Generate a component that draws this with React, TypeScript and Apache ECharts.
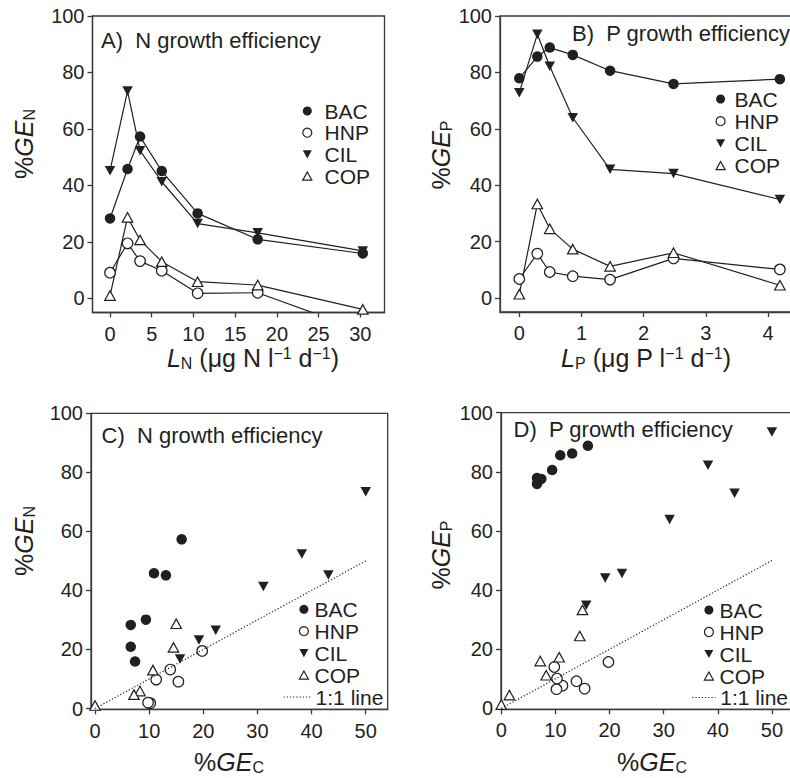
import React, { useEffect, useRef } from 'react';
import * as echarts from 'echarts';

const INK = '#231f20';
const AXIS_INK = '#3a3a3a';
const FONT = '"Liberation Sans", Arial, Helvetica, sans-serif';

// Nutrient loading (x of panels A and B)
const LN = [0, 2.1, 3.6, 6.2, 10.5, 17.7, 30.3];
const LP = [0, 0.29, 0.49, 0.86, 1.46, 2.48, 4.19];

// %GE_N
const GEN_BAC = [28.3, 45.8, 57.3, 45.1, 30.1, 20.9, 15.9];
const GEN_HNP = [9.1, 19.5, 13.2, 9.8, 1.8, 2.0, -11.5];
const GEN_CIL = [45.2, 73.4, 52.3, 41.3, 26.5, 23.2, 16.8];
const GEN_COP = [1.0, 28.7, 20.7, 13.0, 5.9, 4.7, -3.9];

// %GE_P
const GEP_BAC = [77.9, 85.6, 88.8, 86.2, 80.6, 75.9, 77.6];
const GEP_HNP = [6.7, 15.7, 9.2, 7.7, 6.5, 14.0, 10.1];
const GEP_CIL = [72.8, 93.5, 82.2, 63.9, 45.6, 44.1, 34.9];
const GEP_COP = [1.3, 33.3, 24.5, 17.3, 11.2, 16.0, 4.5];

// %GE_C
const GEC_BAC = [6.6, 10.9, 16.0, 13.1, 9.4, 6.6, 7.4];
const GEC_HNP = [15.4, 19.8, 13.9, 11.3, 10.2, 9.8, 10.3];
const GEC_CIL = [43.1, 50.0, 38.2, 31.1, 22.3, 19.2, 15.7];
const GEC_COP = [0.0, 15.0, 14.5, 10.7, 8.3, 7.2, 1.5];

const ONE_TO_ONE = [0, 50];

const GE_TICKS = [0, 20, 40, 60, 80, 100];
const LN_TICKS = [0, 5, 10, 15, 20, 25, 30];
const LP_TICKS = [0, 1, 2, 3, 4];
const GEC_TICKS = [0, 10, 20, 30, 40, 50];

const GROUPS = ['BAC', 'HNP', 'CIL', 'COP'];
const LINE_NAME = '1:1 line';

const DOWN_TRI = 'path://M0,0L10,0L5,9Z';
const UP_TRI = 'path://M5,0L10,9L0,9Z';

const MARK: Record<string, any> = {
  BAC: { symbol: 'circle', symbolSize: 10.5, itemStyle: { color: INK, borderWidth: 0, opacity: 1 } },
  HNP: { symbol: 'circle', symbolSize: 10.5, itemStyle: { color: '#fff', borderColor: INK, borderWidth: 1.2, opacity: 1 } },
  CIL: { symbol: DOWN_TRI, symbolSize: [10.5, 9.5], itemStyle: { color: INK, borderWidth: 0, opacity: 1 } },
  COP: { symbol: UP_TRI, symbolSize: [10.5, 9.5], itemStyle: { color: '#fff', borderColor: INK, borderWidth: 1.2, opacity: 1 } },
};

const zip = (xs: number[], ys: number[]) => xs.map((x, i) => [x, ys[i]]);

function axis(gridIndex: number, min: number, max: number, ticks: number[], margin: number) {
  return {
    type: 'value',
    gridIndex,
    min,
    max,
    axisLine: { show: true, onZero: false, lineStyle: { color: AXIS_INK, width: 1.3 } },
    axisTick: { show: true, inside: false, length: 5, customValues: ticks, lineStyle: { color: AXIS_INK, width: 1.3 } },
    axisLabel: { show: true, customValues: ticks, margin, fontSize: 20, color: INK, fontFamily: FONT },
    splitLine: { show: false },
  };
}

function gridBox(left: number, top: number, width: number, height: number) {
  return {
    left, top, width, height,
    show: true,
    borderColor: AXIS_INK,
    borderWidth: 1.3,
    backgroundColor: 'transparent',
    containLabel: false,
    outerBoundsMode: 'none',
  };
}

const ICON = 9;

// square icon box centred on the marker; a rich spacer pushes the name to its start
function groupLegend(markerCx: number, firstRowCy: number, gap: number, textStart: number) {
  const left = markerCx - ICON / 2;
  const spacer = Math.max(0, textStart - (left + ICON + 5));
  return {
    orient: 'vertical',
    left,
    top: firstRowCy - 10.5,
    padding: 0,
    itemWidth: ICON,
    itemHeight: ICON,
    itemGap: gap,
    selectedMode: false,
    formatter: (name: string) => `{g|\u00a0}{t|${name}}`,
    textStyle: {
      fontSize: 21, color: INK, fontFamily: FONT,
      rich: {
        g: { width: spacer, fontSize: 21, fontFamily: FONT },
        t: { fontSize: 21, color: INK, fontFamily: FONT },
      },
    },
    data: GROUPS.map((g) => ({
      name: g,
      icon: MARK[g].symbol,
      itemStyle: MARK[g].itemStyle,
    })),
  };
}

function lineLegend(left: number, rowCy: number, width: number) {
  return {
    orient: 'vertical',
    left, top: rowCy - 10.5,
    padding: 0,
    itemWidth: width,
    itemHeight: 9,
    selectedMode: false,
    textStyle: { fontSize: 21, color: INK, fontFamily: FONT },
    lineStyle: { color: INK, width: 1.2, type: [1.2, 2] },
    itemStyle: { color: 'transparent', borderColor: 'transparent', borderWidth: 0, opacity: 0 },
    data: [{ name: LINE_NAME }],
  };
}

const rich = {
  n: { fontSize: 25, fontFamily: FONT, fill: INK },
  i: { fontSize: 25, fontFamily: FONT, fontStyle: 'italic', fill: INK },
  s: { fontSize: 16, fontFamily: FONT, fill: INK, padding: [10, 0, 0, 0] },
  p: { fontSize: 16, fontFamily: FONT, fill: INK, padding: [0, 0, 10, 0] },
};

function axisTitle(text: string, x: number, y: number, vertical: boolean) {
  return {
    type: 'text',
    x, y,
    rotation: vertical ? Math.PI / 2 : 0,
    silent: true,
    style: { text, rich, align: 'center', verticalAlign: 'middle', fill: INK, fontSize: 25, fontFamily: FONT },
  };
}

function panelTitle(text: string, left: number, top: number) {
  return {
    text, left, top, padding: 0,
    textStyle: { fontSize: 22, fontWeight: 'normal', color: INK, fontFamily: FONT },
  };
}

function buildOption() {
  const series: any[] = [];
  const genSets: Record<string, number[]> = { BAC: GEN_BAC, HNP: GEN_HNP, CIL: GEN_CIL, COP: GEN_COP };
  const gepSets: Record<string, number[]> = { BAC: GEP_BAC, HNP: GEP_HNP, CIL: GEP_CIL, COP: GEP_COP };
  const gecSets: Record<string, number[]> = { BAC: GEC_BAC, HNP: GEC_HNP, CIL: GEC_CIL, COP: GEC_COP };

  // Panels A and B: connected lines
  GROUPS.forEach((g) => {
    series.push({
      type: 'line', name: g, xAxisIndex: 0, yAxisIndex: 0,
      data: zip(LN, genSets[g]),
      lineStyle: { color: INK, width: 1.2 },
      showSymbol: true, clip: true,
      emphasis: { disabled: true },
      ...MARK[g],
    });
  });
  GROUPS.forEach((g) => {
    series.push({
      type: 'line', name: g, xAxisIndex: 1, yAxisIndex: 1,
      data: zip(LP, gepSets[g]),
      lineStyle: { color: INK, width: 1.2 },
      showSymbol: true, clip: true,
      emphasis: { disabled: true },
      ...MARK[g],
    });
  });
  // Panels C and D: 1:1 line + scatter
  [2, 3].forEach((idx) => {
    series.push({
      type: 'line', name: LINE_NAME, xAxisIndex: idx, yAxisIndex: idx,
      data: zip(ONE_TO_ONE, ONE_TO_ONE),
      symbol: 'none',
      itemStyle: { color: INK },
      lineStyle: { color: INK, width: 1.2, type: [1.2, 2] },
      clip: true,
      emphasis: { disabled: true },
    });
  });
  GROUPS.forEach((g) => {
    series.push({
      type: 'scatter', name: g, xAxisIndex: 2, yAxisIndex: 2,
      data: zip(gecSets[g], genSets[g]),
      clip: true,
      emphasis: { disabled: true },
      ...MARK[g],
    });
  });
  GROUPS.forEach((g) => {
    series.push({
      type: 'scatter', name: g, xAxisIndex: 3, yAxisIndex: 3,
      data: zip(gecSets[g], gepSets[g]),
      clip: true,
      emphasis: { disabled: true },
      ...MARK[g],
    });
  });

  return {
    animation: false,
    backgroundColor: '#ffffff',
    textStyle: { fontFamily: FONT },
    title: [
      panelTitle('A)  N growth efficiency', 101, 29),
      panelTitle('B)  P growth efficiency', 572, 22.3),
      panelTitle('C)  N growth efficiency', 101.5, 424.3),
      panelTitle('D)  P growth efficiency', 513.5, 418.2),
    ],
    grid: [
      gridBox(92.5, 16, 292, 296.5),
      gridBox(500, 16, 292, 296),
      gridBox(91, 413.3, 296.7, 296),
      gridBox(501, 412.7, 292, 296.6),
    ],
    xAxis: [
      axis(0, -2.1, 32.9, LN_TICKS, 11),
      axis(1, -0.31, 4.385, LP_TICKS, 11),
      axis(2, -0.74, 54.06, GEC_TICKS, 12),
      axis(3, -0.05, 53.9, GEC_TICKS, 11),
    ],
    yAxis: [
      axis(0, -5, 100, GE_TICKS, 8),
      axis(1, -5, 100, GE_TICKS, 8),
      axis(2, -0.27, 100, GE_TICKS, 8),
      axis(3, -0.3, 100, GE_TICKS, 8),
    ],
    legend: [
      groupLegend(306.7, 111, 0.7, 324),
      groupLegend(720, 99, 1.2, 734),
      groupLegend(303.3, 609.3, 0.9, 314),
      lineLegend(283, 697, 27),
      groupLegend(708.3, 610, 1, 719),
      lineLegend(691.7, 697.5, 23),
    ],
    graphic: [
      axisTitle('{n|%}{i|GE}{s|N}', 24, 144, true),
      axisTitle('{n|%}{i|GE}{s|P}', 441, 155, true),
      axisTitle('{n|%}{i|GE}{s|N}', 24, 541, true),
      axisTitle('{n|%}{i|GE}{s|P}', 441, 555, true),
      axisTitle('{i|L}{s|N}{n| (μg N l}{p|−1}{n| d}{p|−1}{n|)}', 253, 358, false),
      axisTitle('{i|L}{s|P}{n| (μg P l}{p|−1}{n| d}{p|−1}{n|)}', 646, 358, false),
      axisTitle('{n|%}{i|GE}{s|C}', 229, 762, false),
      axisTitle('{n|%}{i|GE}{s|C}', 652, 762, false),
    ],
    series,
  };
}

export default function App() {
  const ref = useRef<HTMLDivElement | null>(null);
  useEffect(() => {
    if (!ref.current) return;
    const chart = echarts.init(ref.current, null, { renderer: 'svg' });
    chart.setOption(buildOption() as any);
    return () => chart.dispose();
  }, []);
  return (
    <div
      ref={ref}
      style={{ position: 'fixed', left: 0, top: 0, width: 790, height: 778, background: '#fff' }}
    />
  );
}
